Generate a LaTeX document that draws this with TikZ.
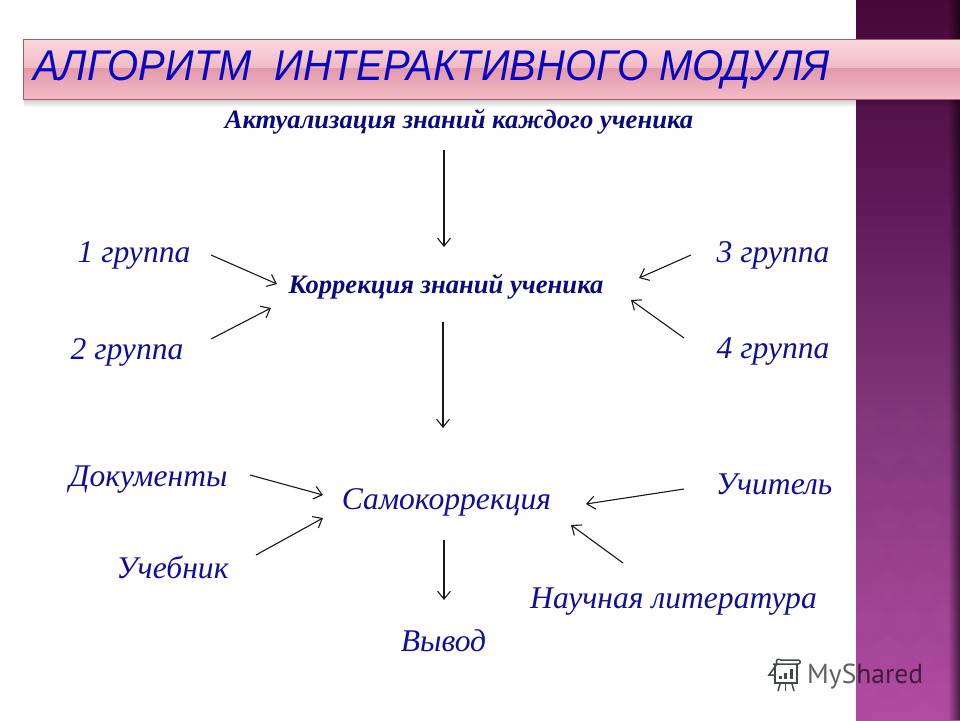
\documentclass[tikz,border=0pt]{standalone}
\usepackage{fontspec}
\setmainfont{Liberation Serif}
\newfontfamily\titlefont[FakeStretch=0.93]{Liberation Sans}
\newfontfamily\markfont{PT Sans}
\usetikzlibrary{arrows.meta,fadings}
\definecolor{inkblue}{HTML}{0F0F9A}
\definecolor{headblue}{HTML}{0A0A80}
\definecolor{titleblue}{HTML}{0808C0}
\definecolor{panA}{HTML}{470838}
\definecolor{panB}{HTML}{5E1A58}
\definecolor{panC}{HTML}{7F3478}
\definecolor{panD}{HTML}{B24AA2}
\definecolor{barA}{HTML}{FBD9DF}
\definecolor{barB}{HTML}{F1BAC5}
\definecolor{barC}{HTML}{E39AAB}
\definecolor{barD}{HTML}{F3BAC6}
\definecolor{barEdge}{HTML}{A85A6C}
\definecolor{markgray}{HTML}{3F4A48}
\tikzset{
  x=1pt,y=-1pt,
  lab/.style={inner sep=0pt,text=inkblue,font=\fontsize{31.6}{33}\selectfont\itshape},
  headlab/.style={inner sep=0pt,text=headblue,font=\fontsize{26.6}{28}\selectfont\bfseries\itshape},
  conn/.style={draw=black!90,line width=1.1pt,-{Straight Barb[length=8pt,width=13pt,line width=1.1pt]}},
  iconline/.style={draw=markgray,line width=1.5pt},
}
\begin{document}
\begin{tikzpicture}
\useasboundingbox (0,0) rectangle (960,720);
\fill[white] (0,0) rectangle (960,720);
% side panel
\shade[top color=panA,bottom color=panB] (856,0) rectangle (960,200);
\shade[top color=panB,bottom color=panC] (856,200) rectangle (960,400);
\shade[top color=panC,bottom color=panD] (856,400) rectangle (960,720);
\begin{scope}
\clip (856,400) rectangle (960,720);
\foreach \i in {0,...,3}{\foreach \j in {0,...,9}{
  \fill[white,opacity=0.012] ({850+\i*38+mod(\j,2)*19},{420+\j*33}) -- +(19,-16) -- +(38,0) -- +(19,16) -- cycle;
}}
\end{scope}
\fill[black,opacity=0.6,path fading=west] (948,0) rectangle (960,720);
% title bar
\fill[black,opacity=0.22,path fading=south] (25,99) rectangle (960,107);
\shade[top color=barA,bottom color=barB] (23,39) rectangle (960,68);
\shade[top color=barC,bottom color=barD] (23,68) rectangle (960,99);
\draw[barEdge,line width=0.9pt] (960,39) -- (23,39) -- (23,99) -- (960,99);
\node[inner sep=0pt,anchor=west,text=titleblue,font=\titlefont\fontsize{43}{46}\selectfont\itshape] (title) at (33,70) {АЛГОРИТМ\ \ ИНТЕРАКТИВНОГО МОДУЛЯ};
% labels
\node[headlab] (act) at (459,122) {Актуализация знаний каждого ученика};
\node[headlab] (corr) at (446,287) {Коррекция знаний ученика};
\node[lab] (g1) at (134,255) {1 группа};
\node[lab] (g2) at (127,352) {2 группа};
\node[lab] (g3) at (773,255) {3 группа};
\node[lab] (g4) at (773,352) {4 группа};
\node[lab] (doc) at (148.5,480) {Документы};
\node[lab] (self) at (446.5,502) {Самокоррекция};
\node[lab] (teach) at (774,484) {Учитель};
\node[lab] (book) at (172.5,567) {Учебник};
\node[lab] (lit) at (673.5,602) {Научная литература};
\node[lab] (concl) at (443.5,641) {Вывод};
% connector ends
\coordinate (a1) at (444,150); \coordinate (a2) at (444,247);
\coordinate (b1) at (211,255); \coordinate (b2) at (277,284);
\coordinate (c1) at (211,339); \coordinate (c2) at (271,308);
\coordinate (d1) at (691,255); \coordinate (d2) at (639,278);
\coordinate (e1) at (684,338); \coordinate (e2) at (631,300);
\coordinate (f1) at (443,322); \coordinate (f2) at (443,428);
\coordinate (g1e) at (250,475); \coordinate (g2e) at (323,495);
\coordinate (h1) at (256,555); \coordinate (h2) at (323,518);
\coordinate (i1) at (684,489); \coordinate (i2) at (586,504);
\coordinate (j1) at (623,563); \coordinate (j2) at (571,525);
\coordinate (k1) at (444,540); \coordinate (k2) at (444,600);
\foreach \s/\t in {a1/a2,b1/b2,c1/c2,d1/d2,e1/e2,f1/f2,g1e/g2e,h1/h2,i1/i2,j1/j2,k1/k2}
  \draw[conn] (\s) -- (\t);
% watermark
\draw[iconline,line join=round] (777,664) .. controls (775,660) and (778,658) .. (781,660) -- (798,660) .. controls (801,660) and (801,664) .. (798,664) -- (773,664);
\draw[iconline] (777,664) -- (769,675) -- (774,675);
\draw[iconline] (775,664) -- (775,683) -- (797,683) -- (797,664);
\fill[markgray] (779,676) rectangle (782,679);
\fill[markgray] (784,673) rectangle (787,679);
\fill[markgray] (790,669) rectangle (793,679);
\draw[iconline] (780,684) -- (778,691);
\draw[iconline] (785.5,684) -- (785.5,691);
\draw[iconline] (792,684) -- (794,691);
\node[inner sep=0pt,anchor=west,text=black,opacity=0.62,font=\markfont\fontsize{27.5}{28}\selectfont] (mark) at (807,677) {MyShared};
\end{tikzpicture}
\end{document}
